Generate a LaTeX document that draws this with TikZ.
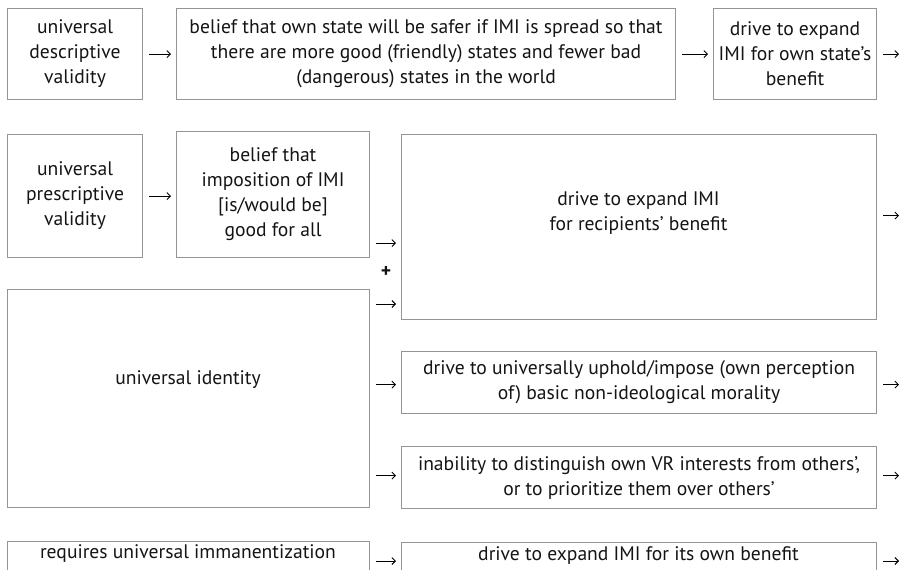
\documentclass[tikz,border=0pt]{standalone}
\usepackage{fontspec}
\setmainfont{PT Sans}
\usetikzlibrary{arrows.meta}
\begin{document}
\begin{tikzpicture}[x=1pt,y=-1pt,
  box/.style={draw=black!42, line width=1.1pt, rectangle, inner sep=0pt, anchor=north west,
    align=center, font=\fontsize{19.6pt}{25pt}\selectfont, text=black!92},
  txt/.style={align=center, font=\fontsize{19.6pt}{25pt}\selectfont, text=black!92, inner sep=0pt},
  conn/.style={-{Straight Barb[length=3.5pt,width=7pt]}, line width=0.9pt, shorten <=6pt, shorten >=5pt}]
\useasboundingbox (0,0) rectangle (900,570);
\clip (0,0) rectangle (900,570);
\coordinate (rim) at (899,0);
% row 1
\node[box, minimum width=135pt, minimum height=91pt] (A1) at (7,8) {universal\\descriptive\\validity};
\node[box, minimum width=499pt, minimum height=91pt] (A2) at (176,8) {belief that own state will be safer if IMI is spread so that\\there are more good (friendly) states and fewer bad\\(dangerous) states in the world};
\node[box, minimum width=163pt, minimum height=91pt] (A3) at (713,8) {drive to expand\\IMI for own state’s\\benefit};
% row 2
\node[box, minimum width=135pt, minimum height=123pt] (B1) at (7,134) {universal\\prescriptive\\validity};
\node[box, minimum width=193pt, minimum height=126pt] (B2) at (176,131) {belief that\\imposition of IMI\\{[is/would be]}\\good for all};
\node[box, minimum width=475pt, minimum height=185pt] (Big) at (401,134) {};
\node[txt] (Bigt) at (638.5,213) {drive to expand IMI\\for recipients’ benefit};
\node[txt, font=\fontsize{19.6pt}{25pt}\selectfont\bfseries] (plus) at (386,272) {+};
% universal identity
\node[box, minimum width=362pt, minimum height=218pt] (UI) at (7,289) {};
\node[txt] (UIt) at (188,380) {universal identity};
\node[box, minimum width=475pt, minimum height=62pt] (C) at (401,351) {drive to universally uphold/impose (own perception\\of) basic non-ideological morality};
\node[box, minimum width=475pt, minimum height=62pt] (D) at (401,446) {inability to distinguish own VR interests from others’,\\or to prioritize them over others’};
% last row
\node[box, minimum width=362pt, minimum height=40pt] (F) at (7,541) {};
\node[txt] (Ft) at (188,554) {requires universal immanentization};
\node[box, minimum width=475pt, minimum height=40pt] (E) at (401,542) {};
\node[txt] (Et) at (638.5,556) {drive to expand IMI for its own benefit};
% connectors
\draw[conn] (A1.east) -- (A1.east -| A2.west);
\draw[conn] (A2.east) -- (A2.east -| A3.west);
\draw[conn, shorten >=0pt] (A3.east) -- (A3.east -| rim);
\draw[conn] (B1.east) -- (B1.east -| B2.west);
\draw[conn] ([yshift=15pt]B2.south east) coordinate (p1) -- (p1 -| Big.west);
\draw[conn] ([yshift=-15pt]UI.north east) coordinate (p2) -- (p2 -| Big.west);
\draw[conn, shorten >=0pt] ([yshift=11.5pt]Big.east) coordinate (p3) -- (p3 -| rim);
\draw[conn] ([yshift=-2pt]C.west -| UI.east) coordinate (p4) -- (p4 -| C.west);
\draw[conn, shorten >=0pt] ([yshift=-2pt]C.east) coordinate (p5) -- (p5 -| rim);
\draw[conn] ([yshift=2pt]D.west -| UI.east) coordinate (p6) -- (p6 -| D.west);
\draw[conn, shorten >=0pt] ([yshift=2pt]D.east) coordinate (p7) -- (p7 -| rim);
\draw[conn] (F.east |- 0,561) coordinate (p8) -- (p8 -| E.west);
\draw[conn, shorten >=0pt] (E.east |- 0,561) coordinate (p9) -- (p9 -| rim);
\end{tikzpicture}
\end{document}
